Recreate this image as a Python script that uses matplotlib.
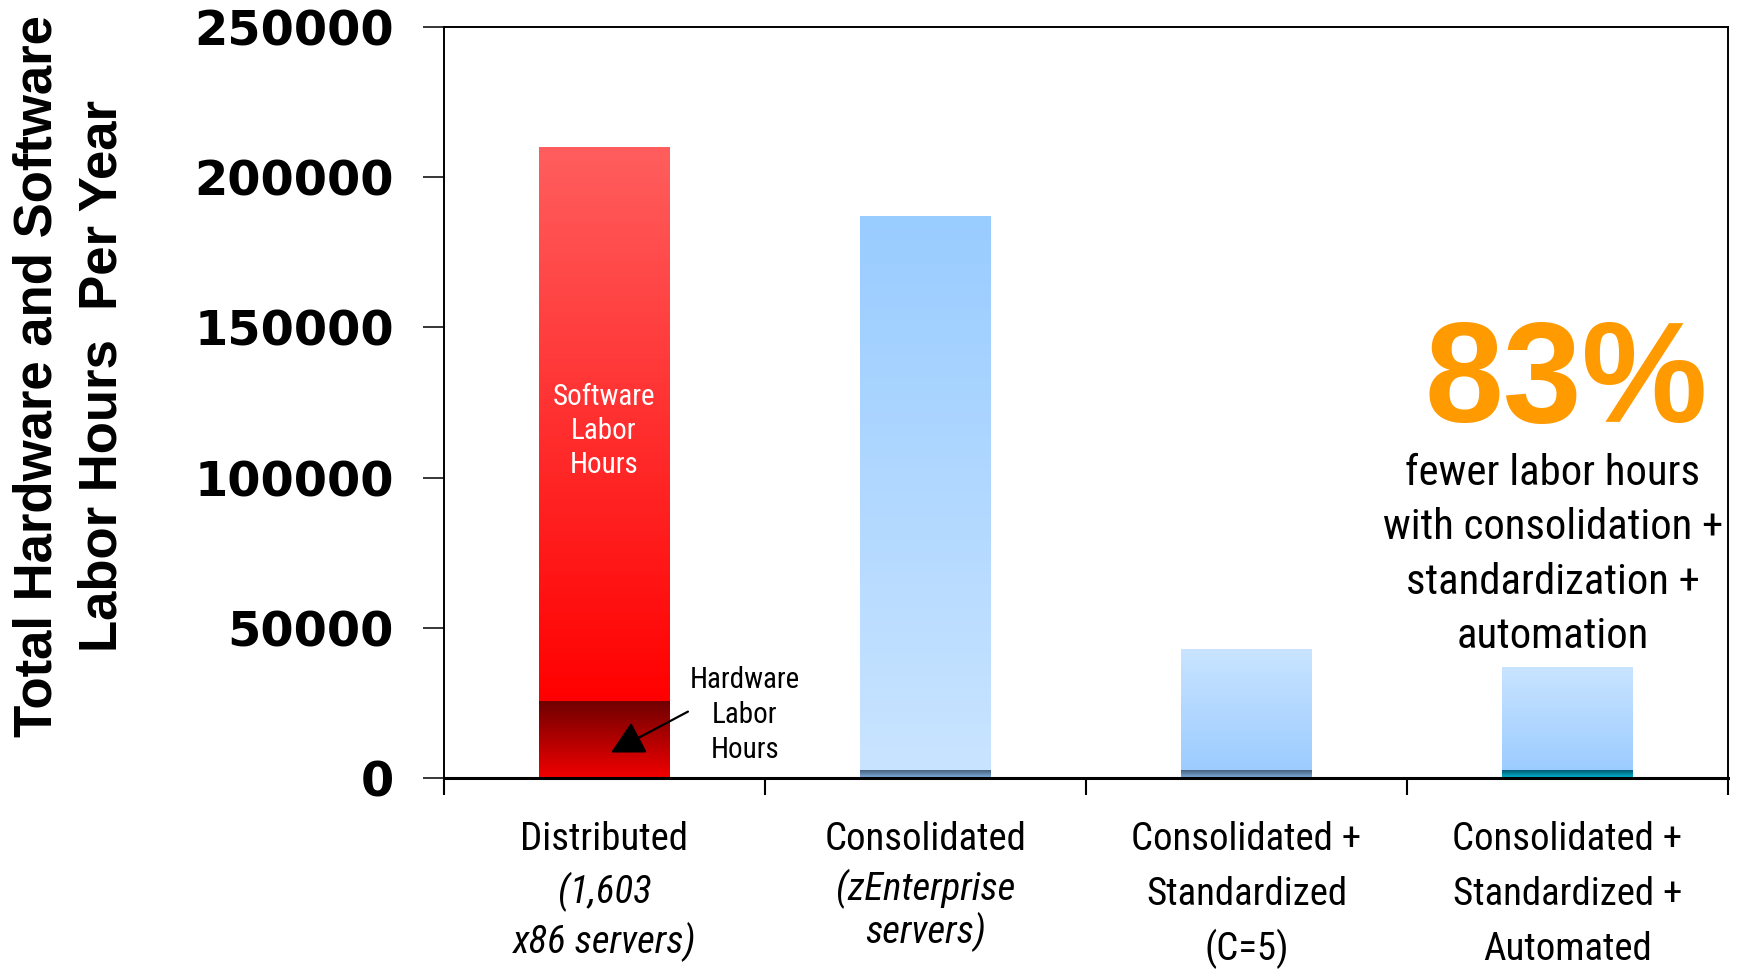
import numpy as np
import matplotlib
matplotlib.use('Agg')
import matplotlib.pyplot as plt
from matplotlib import font_manager as fm
from matplotlib.colors import to_rgb
from matplotlib.transforms import blended_transform_factory

# labor hours per year, split into hardware and software
hardware_hours = [25700, 2500, 2500, 2500]
software_hours = [184300, 184100, 40000, 34100]
yticks = [0, 50000, 100000, 150000, 200000, 250000]

# category label lines: (text, style)
cat_lines = [
    [("Distributed", "normal"), ("(1,603", "italic"), ("x86 servers)", "italic")],
    [("Consolidated", "normal"), ("(zEnterprise", "italic"), ("servers)", "italic")],
    [("Consolidated +", "normal"), ("Standardized", "normal"), ("(C=5)", "normal")],
    [("Consolidated +", "normal"), ("Standardized +", "normal"), ("Automated", "normal")],
]
# baselines of the label lines, pixels from the top of the figure
cat_baselines = [[850, 903, 953], [850, 900, 943], [850, 905, 960], [850, 905, 960]]

callout_pct = "83%"
callout_lines = ["fewer labor hours", "with consolidation +", "standardization +", "automation"]

# gradient colours (top, bottom) for each segment
sw_grad = [('#FF5E5E', '#FF0000'), ('#99CCFF', '#C9E4FF'),
           ('#C9E4FF', '#9CCCFF'), ('#C9E4FF', '#9CCCFF')]
hw_grad = [('#6E0000', '#F20000'), ('#46607C', '#82B2E4'),
           ('#46607C', '#82B2E4'), ('#005A6E', '#00BADA')]

sans = 'Liberation Sans'


def find_narrow(style='normal'):
    # look for a condensed sans among the installed fonts
    prefs = ['Liberation Sans Narrow', 'Arial Narrow', 'Roboto Condensed',
             'Open Sans Condensed', 'Noto Sans Condensed', 'DejaVu Sans']
    cands = []
    for f in fm.fontManager.ttflist:
        narrowish = ('Narrow' in f.name or 'Condensed' in f.name
                     or f.stretch in ('condensed', 'semi-condensed'))
        if narrowish and f.style == style and f.weight in (400, 'normal', 'regular', 'book'):
            rank = prefs.index(f.name) if f.name in prefs else len(prefs)
            cands.append((rank, f.fname))
    if cands:
        return fm.FontProperties(fname=sorted(cands)[0][1])
    return fm.FontProperties(family=sans, style=style)


narrow = {'normal': find_narrow('normal'), 'italic': find_narrow('italic')}

W, H = 1740, 974
fig = plt.figure(figsize=(W / 100, H / 100), dpi=100)
fig.patch.set_facecolor('white')
ax = fig.add_axes([444 / W, 1 - 778 / H, (1728 - 444) / W, (778 - 27) / H])
renderer = fig.canvas.get_renderer()


def fit_size(txt, fp, target_px, max_size):
    t = fig.text(0, 0, txt, fontproperties=fp, fontsize=20)
    w = t.get_window_extent(renderer).width
    t.remove()
    return min(20 * target_px / w, max_size)


xpos = np.arange(len(hardware_hours)) + 0.5
bw = 0.405


def fill_gradient(rect, top, bottom):
    x0, y0 = rect.get_x(), rect.get_y()
    w, h = rect.get_width(), rect.get_height()
    t = np.linspace(0, 1, 256)[:, None]
    img = np.array(to_rgb(top)) * (1 - t) + np.array(to_rgb(bottom)) * t
    ax.imshow(img[:, None, :], extent=(x0, x0 + w, y0, y0 + h), origin='upper',
              aspect='auto', interpolation='bilinear', zorder=2)


hw_bars = ax.bar(xpos, hardware_hours, bw, color='none', linewidth=0)
sw_bars = ax.bar(xpos, software_hours, bw, bottom=hardware_hours, color='none', linewidth=0)
for i in range(len(xpos)):
    fill_gradient(hw_bars[i], *hw_grad[i])
    fill_gradient(sw_bars[i], *sw_grad[i])

ax.set_xlim(0, 4)
ax.set_ylim(0, 250000)
ax.set_xticks([0, 1, 2, 3, 4])
ax.set_xticklabels([])
ax.set_yticks(yticks)
ax.set_yticklabels([str(v) for v in yticks], fontsize=34.5, fontweight='bold',
                   family='DejaVu Sans')
ax.tick_params(axis='y', direction='out', length=15, width=1.1, pad=21)
ax.tick_params(axis='x', direction='out', length=12, width=1.5)
for s in ['left', 'top', 'right']:
    ax.spines[s].set_linewidth(1.4)
ax.spines['bottom'].set_linewidth(2.2)

# y axis title
fig.text(70 / W, 1 - 376 / H, "Total Hardware and Software\nLabor Hours  Per Year",
         rotation=90, ha='center', va='center', multialignment='center',
         fontsize=38, fontweight='bold', family=sans, linespacing=1.36)

# category labels under the axis
tr = blended_transform_factory(ax.transData, fig.transFigure)
cat_size = fit_size("Distributed", narrow['normal'], 178, 28)
for i, lines in enumerate(cat_lines):
    for (txt, style), yb in zip(lines, cat_baselines[i]):
        ax.text(xpos[i], 1 - yb / H, txt, transform=tr, ha='center', va='baseline',
                fontsize=cat_size, fontproperties=narrow[style])

# segment labels on the first bar
seg_size = fit_size("Hardware", narrow['normal'], 110, 22)
for k, txt in enumerate(["Software", "Labor", "Hours"]):
    fig.text(604 / W, 1 - (405 + 34 * k) / H, txt, ha='center', va='baseline',
             fontsize=seg_size, color='white', fontproperties=narrow['normal'])
for k, txt in enumerate(["Hardware", "Labor", "Hours"]):
    fig.text(745 / W, 1 - (688 + 35 * k) / H, txt, ha='center', va='baseline',
             fontsize=seg_size, color='black', fontproperties=narrow['normal'])
ax.annotate('', xy=(xpos[0] + 0.02, hardware_hours[0] * 0.33),
            xytext=(xpos[0] + 0.26, hardware_hours[0] * 0.86),
            arrowprops=dict(arrowstyle='-|>,head_length=0.85,head_width=0.45',
                            mutation_scale=24, color='black', lw=1.6,
                            shrinkA=0, shrinkB=0), zorder=5)

# savings callout
fig.text(1566 / W, 1 - 422 / H, callout_pct, ha='center', va='baseline',
         fontsize=102, fontweight='bold', color='#FF9A00', family=sans)
call_size = fit_size(callout_lines[1], narrow['normal'], 340, 33)
for k, txt in enumerate(callout_lines):
    fig.text(1553 / W, 1 - (485 + 54.3 * k) / H, txt, ha='center', va='baseline',
             fontsize=call_size, color='black', fontproperties=narrow['normal'])

fig.savefig('out.png', dpi=100, facecolor='white')
